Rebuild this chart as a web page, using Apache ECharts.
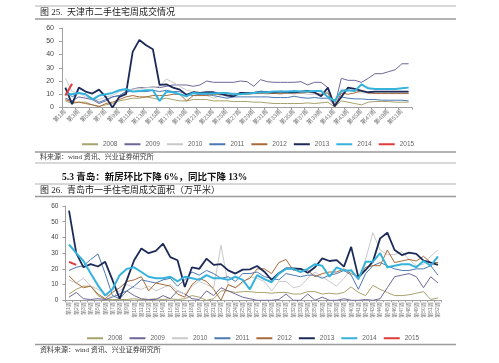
<!DOCTYPE html>
<html><head><meta charset="utf-8">
<script src="https://cdn.jsdelivr.net/npm/echarts@6/dist/echarts.min.js"></script>
<style>html,body{margin:0;padding:0;background:#fff}#c{width:499px;height:363px}</style>
</head><body><div id="c"></div>
<script>
const years = ['2008','2009','2010','2011','2012','2013','2014','2015'];
const colors = ['#a7a26c','#6e6699','#c9c9c9','#4b79b2','#a86a38','#1b2a58','#35b3dc','#e03a3a'];
const widths = [1,1,1,1,1,1.8,2,2];
const weeks = [];
for (let i = 1; i <= 52; i++) weeks.push('第' + i + '周');

// 天津 二手住宅周成交
const tj2008 = [5,3,4,4,2,1,2,3,5,6,7,7,8,7,6,7,6,5,5,6,6,6,5,5,5,4.5,4.5,4.5,4,4,3.5,3,3,3,3,3,3.5,3,3.5,4,0.5,5,4,3,2,4,4.5,4.5,4.5,4,4,4];
const tj2009 = [7,5,8,7,6,3,5,8,9,11,14,15,15,15.5,15,16,17,17,17,16,17,20,19,19,19,19,20,19.5,16,21,19.5,19,19,19,19,19.5,17,19,19,15,1,22,20.5,20.5,19,22,25.5,25.5,27,28.5,33,33];
const tj2010 = [22,12,11,8,7,6,8,9,12,13,14,14,15,15,16,21.5,19,16,13,12,10,9,7,9,10,11,10,10,11,11,10,11,10,11,10,11,10,10,9,12,1,14,13,12,11,11,11,11,11,11,11,11];
const tj2011 = [14,8,11,10,7,4,6,8,9,12,12,12,12,13,12,13,12,12,10,9,10,10,9,8,7,8,8,8,8,8,8,7.5,7.5,7.5,8.5,7.5,7,7.5,7,7,2,8,7,6.5,6.5,6,6,5.5,5.5,5.5,5.5,5];
const tj2012 = [6,4,4,3,2,0.5,3,4,6,8,9,8,8,9,9,9,10,10,5,9,9,9,10,10,10,10,10,10,10.5,10.5,11,10.5,10.5,11,11,11,11.5,11,10,11,0.5,11,10,11,13,11,10.5,10.5,10.5,10.5,10.5,10.5];
const tj2013 = [15,2.5,15,12,10.5,13.5,8,0,8,10,42,51,47,44,17,17.5,15,13.5,9.5,11.5,11,11.5,11.5,10.5,9,8.5,11,11,11,12,11.5,11.5,12,11.5,11.5,12,12.5,11.5,8.5,15,1,8,15,14,12.5,11.5,12,12,12,12,12,12];
const tj2014 = [10.5,10,11,10,6,9,10,11,13,14,12,12.5,13,13,5,12,11.5,10,8.5,11,10.5,10.5,10.5,11,11,10,10,10.5,11,11.5,11.5,12,12,12,12.5,12,12,12.5,12.5,8,5,12.5,13,12.5,17.5,14.5,14,14,14,14,14.5,15];
const tj2015 = [9,18];

// 青岛 一手住宅周成交面积
const qd2008 = [4,7,9,9,3,0.5,0.5,0.5,0.5,1,0.5,0.5,1,0.5,1,0.5,1,3,2,0,1,6,6,5,5.5,5.5,5,5,4.5,5,5,4,4,5.5,5.5,4,4.5,4,5,8.5,5,3,9.5,7,5,3,3,3.5,4.5,5.5,0.5,1.5];
const qd2009 = [2,5,1,0.5,1,0.5,2,4,6,3,1,0.5,0.5,3,1,6,4,1,0.5,6,3,8,6,4,2,1,0,0,0,0.5,4,0,0,4,0,2,0,0,1,0,0,0.5,0,1,8,15,16,17,15,8,15,11];
const qd2010 = [13,11,14,9,7,4,2,6,10,8,7,9,6,8,10,6,4,9,12,10,8,35,10,8,11,15,14,12,6,12,12,8,9,14,18,15,12,9,14,20,13,26,43,32,29,29,31,26,22,23,28,32];
const qd2011 = [19,21,22,26,29.5,17,3,1,6,9,13,12,11,13,14,9,13,18,16,19,17,14,15,12,17,17,18,15,14,13,17,16,15,16,16,14,16,17,19,16,7,17,22,24,22,20,19,19,20,20,22,16];
const qd2012 = [15.5,11,8,9,4,1,5,8,12,13,15,6,11,10,9,4,2,10,14,12,7,0,10,8,12,14,20,20,17,24,26,19,20,19,15,17,18,18,20,17,15,21,22,22,32,24,25,26,25,28,24,24];
const qd2013 = [57,30,21,23,21.5,24.5,13,1,13,25.5,33,30,31.5,36,27.5,25.5,8.5,21,20,26.5,22.5,23,19,17,19.5,19.7,21.8,18.2,12.9,17.2,20.3,20.3,20,17.5,21,26.7,25,25.6,21.4,34,14.6,19.3,24.6,39.4,43,32,28.8,30.3,29.5,25.2,24,22.5];
const qd2014 = [35.5,30,25,17,9.5,3,7,16,20,21,18,15,14,14,15,12,15,14,13,16,14,14,13,15,13,7,16,13.5,11.5,17,20,20,18,20,23,22,15,21,19,19,13.5,24.5,24.5,30,21,22,23,23,21,25,22,28];
const qd2015 = [24.5,22.5];

const yTicks = [0,10,20,30,40,50,60];

const tjData = [tj2008,tj2009,tj2010,tj2011,tj2012,tj2013,tj2014,tj2015];
const qdData = [qd2008,qd2009,qd2010,qd2011,qd2012,qd2013,qd2014,qd2015];

const serif = '"Liberation Serif","Noto Sans CJK SC"';
const sans = '"Liberation Sans","Noto Sans CJK SC"';

function yAxis(gi, fs, margin) {
  return {
    type: 'value', gridIndex: gi, min: yTicks[0], max: yTicks[yTicks.length-1], interval: 10,
    splitLine: {show: false},
    axisLine: {show: true, lineStyle: {color: '#a0a0a0', width: 1}},
    axisTick: {show: true, length: 3, lineStyle: {color: '#a0a0a0'}},
    axisLabel: {fontSize: fs, color: '#444', margin: margin, fontFamily: sans}
  };
}

const series = [];
years.forEach((y, k) => {
  series.push({name: y, type: 'line', xAxisIndex: 0, yAxisIndex: 0, data: tjData[k], symbol: 'none',
    lineStyle: {width: widths[k], color: colors[k]}, itemStyle: {color: colors[k]}, z: 2 + k});
  series.push({name: y, type: 'line', xAxisIndex: 1, yAxisIndex: 1, data: qdData[k], symbol: 'none',
    lineStyle: {width: widths[k], color: colors[k]}, itemStyle: {color: colors[k]}, z: 2 + k});
});

function hline(y, w, c) {
  return {type: 'line', shape: {x1: 35, y1: y, x2: 456, y2: y}, style: {stroke: c || '#9a9a9a', lineWidth: w || 1}, silent: true};
}
function txt(x, y, s, font, color) {
  return {type: 'text', x: x, y: y, style: {text: s, font: font, fill: color || '#222', verticalAlign: 'middle', textVerticalAlign: 'middle'}, silent: true};
}

const legendBase = {
  data: years, icon: 'rect', itemWidth: 16, itemHeight: 2, itemGap: 7, orient: 'horizontal',
  textStyle: {fontSize: 6.5, color: '#666', fontFamily: sans}, selectedMode: false
};

const chart = echarts.init(document.getElementById('c'), null, {renderer: 'canvas'});
chart.setOption({
  animation: false,
  backgroundColor: '#fff',
  grid: [
    {left: 62, right: 87, top: 28, bottom: 255.5},
    {left: 65.4, right: 57.4, top: 206, bottom: 62.7}
  ],
  xAxis: [
    {type: 'category', gridIndex: 0, data: weeks, boundaryGap: true,
      axisLine: {lineStyle: {color: '#a0a0a0'}}, axisTick: {show: true, length: 2, lineStyle: {color: '#a0a0a0'}},
      axisLabel: {interval: 1, rotate: 45, fontSize: 6, color: '#777', margin: 3, fontFamily: sans}},
    {type: 'category', gridIndex: 1, data: weeks, boundaryGap: true,
      axisLine: {lineStyle: {color: '#a0a0a0'}}, axisTick: {show: true, length: 2, lineStyle: {color: '#a0a0a0'}},
      axisLabel: {interval: 0, rotate: 90, fontSize: 5, color: '#777', margin: 2, fontFamily: sans}}
  ],
  yAxis: [yAxis(0, 7, 8), yAxis(1, 6.5, 7)],
  legend: [
    Object.assign({}, legendBase, {left: 77, top: 136}),
    Object.assign({}, legendBase, {left: 82, top: 330})
  ],
  series: series,
  graphic: [
    hline(6, 1, '#b0b0b0'),
    hline(19, 1.5, '#9a9a9a'),
    txt(40, 13, '图 25.  天津市二手住宅周成交情况', '9px ' + serif, '#222'),
    hline(152, 1.5, '#9a9a9a'),
    txt(40, 157.5, '料来源：wind 资讯、兴业证券研究所', '7px ' + serif, '#333'),
    hline(163, 1, '#b0b0b0'),
    txt(62, 177.5, '5.3 青岛：新房环比下降 6%，同比下降 13%', 'bold 9.5px ' + serif, '#111'),
    hline(184, 1, '#b0b0b0'),
    txt(40, 190.5, '图 26.  青岛市一手住宅周成交面积（万平米）', '9px ' + serif, '#222'),
    hline(196.5, 1.5, '#9a9a9a'),
    hline(344.5, 1.5, '#9a9a9a'),
    txt(40, 350.5, '资料来源：wind 资讯、兴业证券研究所', '7px ' + serif, '#333')
  ]
});
</script>
</body></html>
